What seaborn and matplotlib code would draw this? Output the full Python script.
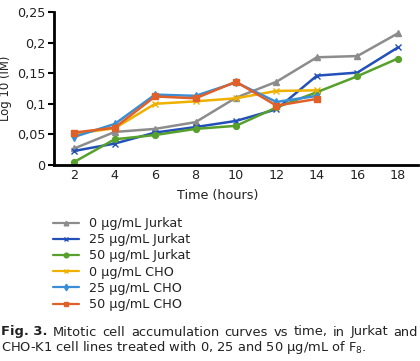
import matplotlib
matplotlib.use("Agg")
import matplotlib.pyplot as plt
import seaborn as sns
import pandas as pd

# ---- data ----
hours = [2, 4, 6, 8, 10, 12, 14, 16, 18]
hours_cho = [2, 4, 6, 8, 10, 12, 14]

jurkat_0 = [0.027, 0.054, 0.059, 0.070, 0.110, 0.136, 0.176, 0.178, 0.215]
jurkat_25 = [0.023, 0.035, 0.053, 0.062, 0.072, 0.091, 0.146, 0.151, 0.192]
jurkat_50 = [0.005, 0.042, 0.049, 0.059, 0.064, 0.094, 0.119, 0.145, 0.174]
cho_0 = [0.051, 0.060, 0.100, 0.104, 0.109, 0.121, 0.122]
cho_25 = [0.046, 0.067, 0.115, 0.113, 0.135, 0.103, 0.113]
cho_50 = [0.053, 0.061, 0.112, 0.109, 0.136, 0.097, 0.108]

labels = ["0 µg/mL Jurkat", "25 µg/mL Jurkat", "50 µg/mL Jurkat",
          "0 µg/mL CHO", "25 µg/mL CHO", "50 µg/mL CHO"]
colors = ["#8c8c8c", "#2350b8", "#58a02c", "#f0b000", "#3a8ed6", "#e0602a"]
markers = ["^", "x", "o", "x", "d", "s"]

series = [(hours, jurkat_0), (hours, jurkat_25), (hours, jurkat_50),
          (hours_cho, cho_0), (hours_cho, cho_25), (hours_cho, cho_50)]

sns.set_theme(style="white")
plt.rcParams["font.family"] = ["DejaVu Sans"]
plt.rcParams["text.color"] = "#222222"

fig = plt.figure(figsize=(4.2, 3.61), dpi=100)
ax = fig.add_axes([54 / 420, 1 - 165 / 361, 364 / 420, 153 / 361])

handles = []
for (xs, ys), lab, col, mk in zip(series, labels, colors, markers):
    df = pd.DataFrame({"time": xs, "value": ys})
    sns.lineplot(data=df, x="time", y="value", ax=ax, color=col,
                 marker=mk, markersize=4.2, markeredgecolor=col,
                 markeredgewidth=1.0, linewidth=1.8, label=lab, legend=False)
    handles.append(ax.lines[-1])

ax.set_xlim(1, 19)
ax.set_ylim(0, 0.25)
ax.set_xticks(hours)
ax.set_yticks([0, 0.05, 0.1, 0.15, 0.2, 0.25])
ax.set_yticklabels(["0", "0,05", "0,1", "0,15", "0,2", "0,25"])
ax.tick_params(axis="both", labelsize=9.2, width=1.5, direction="out",
               color="black", labelcolor="#222222")
ax.tick_params(axis="y", left=True, length=4, pad=2)
ax.tick_params(axis="x", bottom=False, length=0, pad=3)
for s in ["top", "right"]:
    ax.spines[s].set_visible(False)
for s in ["left", "bottom"]:
    ax.spines[s].set_color("black")
    ax.spines[s].set_linewidth(2)
ax.set_xlabel("Time (hours)", fontsize=9.2, color="#222222")
ax.xaxis.set_label_coords((218 - 54) / 364, -(195 - 165) / 153)
ax.xaxis.label.set_va("center")
ax.set_ylabel("Log 10 (IM)", fontsize=8.4, labelpad=4, color="#222222")

leg = fig.legend(handles=handles, labels=labels, loc="upper left",
                 bbox_to_anchor=(48 / 420, 1 - 212 / 361), frameon=False,
                 fontsize=9.2, numpoints=1, handlelength=2.0,
                 handletextpad=0.8, labelspacing=0.25, borderaxespad=0,
                 markerscale=0.8)
for h in leg.legend_handles:
    h.set_linewidth(1.6)

# ---- caption, justified first line ----
renderer = fig.canvas.get_renderer()
line1 = ["Mitotic", "cell", "accumulation", "curves", "vs", "time,", "in",
         "Jurkat", "and"]
y1 = 1 - 332 / 361
y2 = 1 - 348 / 361
x_left, x_right = 1 / 420, 418 / 420
cap_size = 9.4
bold = fig.text(x_left, y1, "Fig. 3.", fontsize=cap_size, fontweight="bold",
                va="center", ha="left")
words = [bold] + [fig.text(0, y1, w, fontsize=cap_size, va="center", ha="left")
                  for w in line1]
widths = [t.get_window_extent(renderer).width / 420 for t in words]
gap = (x_right - x_left - sum(widths)) / (len(words) - 1)
x = x_left
for t, w in zip(words, widths):
    t.set_x(x)
    x += w + gap
fig.text(x_left, y2, "CHO-K1 cell lines treated with 0, 25 and 50 µg/mL of F$_8$.",
         fontsize=cap_size, va="center", ha="left")

fig.savefig("out.png", dpi=100)
